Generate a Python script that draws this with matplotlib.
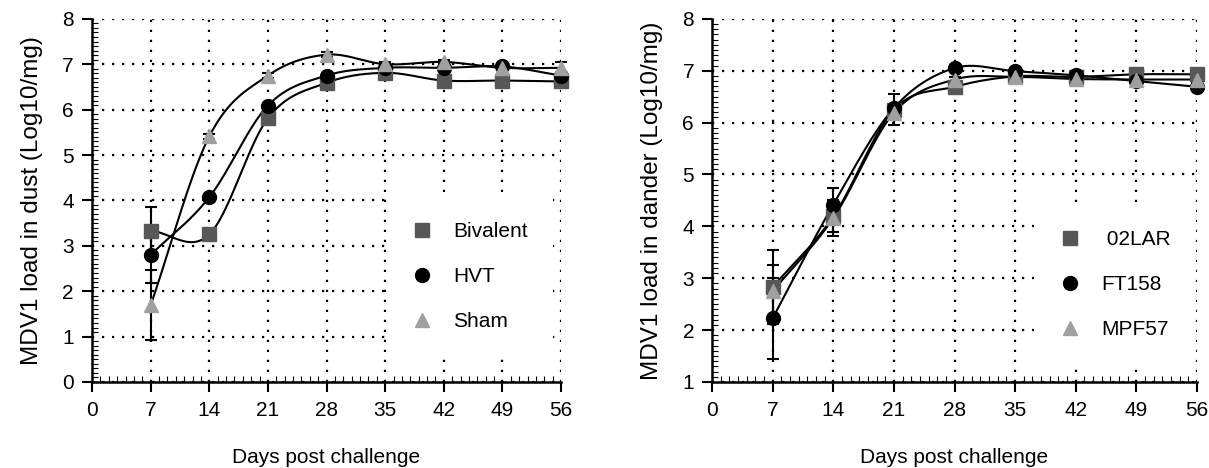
import numpy as np
import matplotlib
matplotlib.use("Agg")
import matplotlib.pyplot as plt
from matplotlib.lines import Line2D
from matplotlib.ticker import MultipleLocator

plt.rcParams['font.family'] = ['Liberation Sans', 'DejaVu Sans']

days = [7, 14, 21, 28, 35, 42, 49, 56]

# Dust panel
dust_names = ["Bivalent", "HVT", "Sham"]
bivalent = [3.33, 3.25, 5.81, 6.59, 6.81, 6.64, 6.64, 6.62]
bivalent_err = [0.52, 0.05, 0.05, 0.05, 0.05, 0.05, 0.05, 0.05]
hvt = [2.80, 4.07, 6.09, 6.75, 6.92, 6.92, 6.95, 6.75]
hvt_err = [0.63, 0.05, 0.05, 0.05, 0.05, 0.05, 0.05, 0.05]
sham = [1.69, 5.41, 6.75, 7.21, 7.00, 7.05, 6.92, 6.92]
sham_err = [0.77, 0.05, 0.05, 0.05, 0.05, 0.05, 0.05, 0.12]

# Dander panel
dander_names = [" 02LAR", "FT158", "MPF57"]
lar = [2.83, 4.19, 6.25, 6.69, 6.89, 6.88, 6.93, 6.93]
lar_err = [0.71, 0.30, 0.30, 0.05, 0.05, 0.05, 0.05, 0.05]
ft = [2.23, 4.42, 6.28, 7.05, 6.99, 6.91, 6.80, 6.69]
ft_err = [0.78, 0.31, 0.05, 0.05, 0.05, 0.05, 0.05, 0.05]
mpf = [2.75, 4.16, 6.19, 6.83, 6.88, 6.84, 6.83, 6.83]
mpf_err = [0.50, 0.35, 0.05, 0.05, 0.05, 0.05, 0.05, 0.05]

markers = ['s', 'o', '^']
mcolors = ['#575757', '#000000', '#a0a0a0']


def smooth_curve(x, y, n=60):
    """Catmull-Rom style cubic Hermite curve through the data points."""
    x = np.asarray(x, float)
    y = np.asarray(y, float)
    k = len(x)
    m = np.empty(k)
    m[0] = (y[1] - y[0]) / (x[1] - x[0])
    m[-1] = (y[-1] - y[-2]) / (x[-1] - x[-2])
    for i in range(1, k - 1):
        m[i] = (y[i + 1] - y[i - 1]) / (x[i + 1] - x[i - 1])
    xs_all, ys_all = [], []
    for i in range(k - 1):
        h = x[i + 1] - x[i]
        t = np.linspace(0, 1, n)
        h00 = 2 * t**3 - 3 * t**2 + 1
        h10 = t**3 - 2 * t**2 + t
        h01 = -2 * t**3 + 3 * t**2
        h11 = t**3 - t**2
        xs_all.append(x[i] + t * h)
        ys_all.append(h00 * y[i] + h10 * h * m[i] + h01 * y[i + 1] + h11 * h * m[i + 1])
    return np.concatenate(xs_all), np.concatenate(ys_all)


fig = plt.figure(figsize=(12.09, 4.68), dpi=100)
ax1 = fig.add_axes([0.0761, 0.1838, 0.388, 0.776])
ax2 = fig.add_axes([0.589, 0.1838, 0.401, 0.776])

FS = 15


def panel(ax, series, errs, names, ylim, ylabel, leg_anchor):
    ax.set_xlim(0, 56)
    ax.set_ylim(*ylim)
    ax.set_xticks(range(0, 57, 7))
    ax.set_yticks(range(ylim[0], ylim[1] + 1))
    ax.xaxis.set_minor_locator(MultipleLocator(1))
    ax.yaxis.set_minor_locator(MultipleLocator(0.1))
    ax.tick_params(which='major', direction='out', length=7, width=1.5,
                   labelsize=15)
    ax.tick_params(axis='x', which='major', pad=7)
    ax.tick_params(axis='y', which='major', pad=6)
    ax.tick_params(which='minor', direction='in', length=4, width=0.8)
    for s in ['top', 'right']:
        ax.spines[s].set_visible(False)
    for s in ['left', 'bottom']:
        ax.spines[s].set_linewidth(1.8)
    ax.grid(True, which='major', color='black', linestyle=(0, (1, 3.5)),
            linewidth=1.6)
    ax.set_axisbelow(True)
    for vals, err, mk, col in zip(series, errs, markers, mcolors):
        xs, ys = smooth_curve(days, vals)
        ax.plot(xs, ys, color='black', lw=1.5, zorder=3, clip_on=False)
        ax.errorbar(days, vals, yerr=err, fmt='none', ecolor='black',
                    elinewidth=1.5, capsize=4.5, capthick=1.5, zorder=3,
                    clip_on=False)
        ax.plot(days, vals, linestyle='none', marker=mk, markersize=10,
                color=col, markeredgecolor=col, zorder=4, clip_on=False)
    ax.set_xlabel('Days post challenge', fontsize=15, labelpad=20)
    ax.set_ylabel(ylabel, fontsize=17.5, labelpad=14)
    handles = [Line2D([], [], linestyle='none', marker=mk, markersize=10,
                      color=c) for mk, c in zip(markers, mcolors)]
    leg = ax.legend(handles, names, loc='center left',
                    bbox_to_anchor=leg_anchor, fontsize=FS, frameon=True,
                    framealpha=1, facecolor='white', edgecolor='none',
                    handlelength=1.0, handletextpad=1.0, labelspacing=1.25,
                    borderpad=1.2, fancybox=False)
    leg.set_zorder(2.5)


panel(ax1, [bivalent, hvt, sham], [bivalent_err, hvt_err, sham_err],
      dust_names, (0, 8), 'MDV1 load in dust (Log10/mg)', (0.606, 0.29))
panel(ax2, [lar, ft, mpf], [lar_err, ft_err, mpf_err],
      dander_names, (1, 8), 'MDV1 load in dander (Log10/mg)', (0.643, 0.268))

fig.savefig('out.png', dpi=100, facecolor='white')
